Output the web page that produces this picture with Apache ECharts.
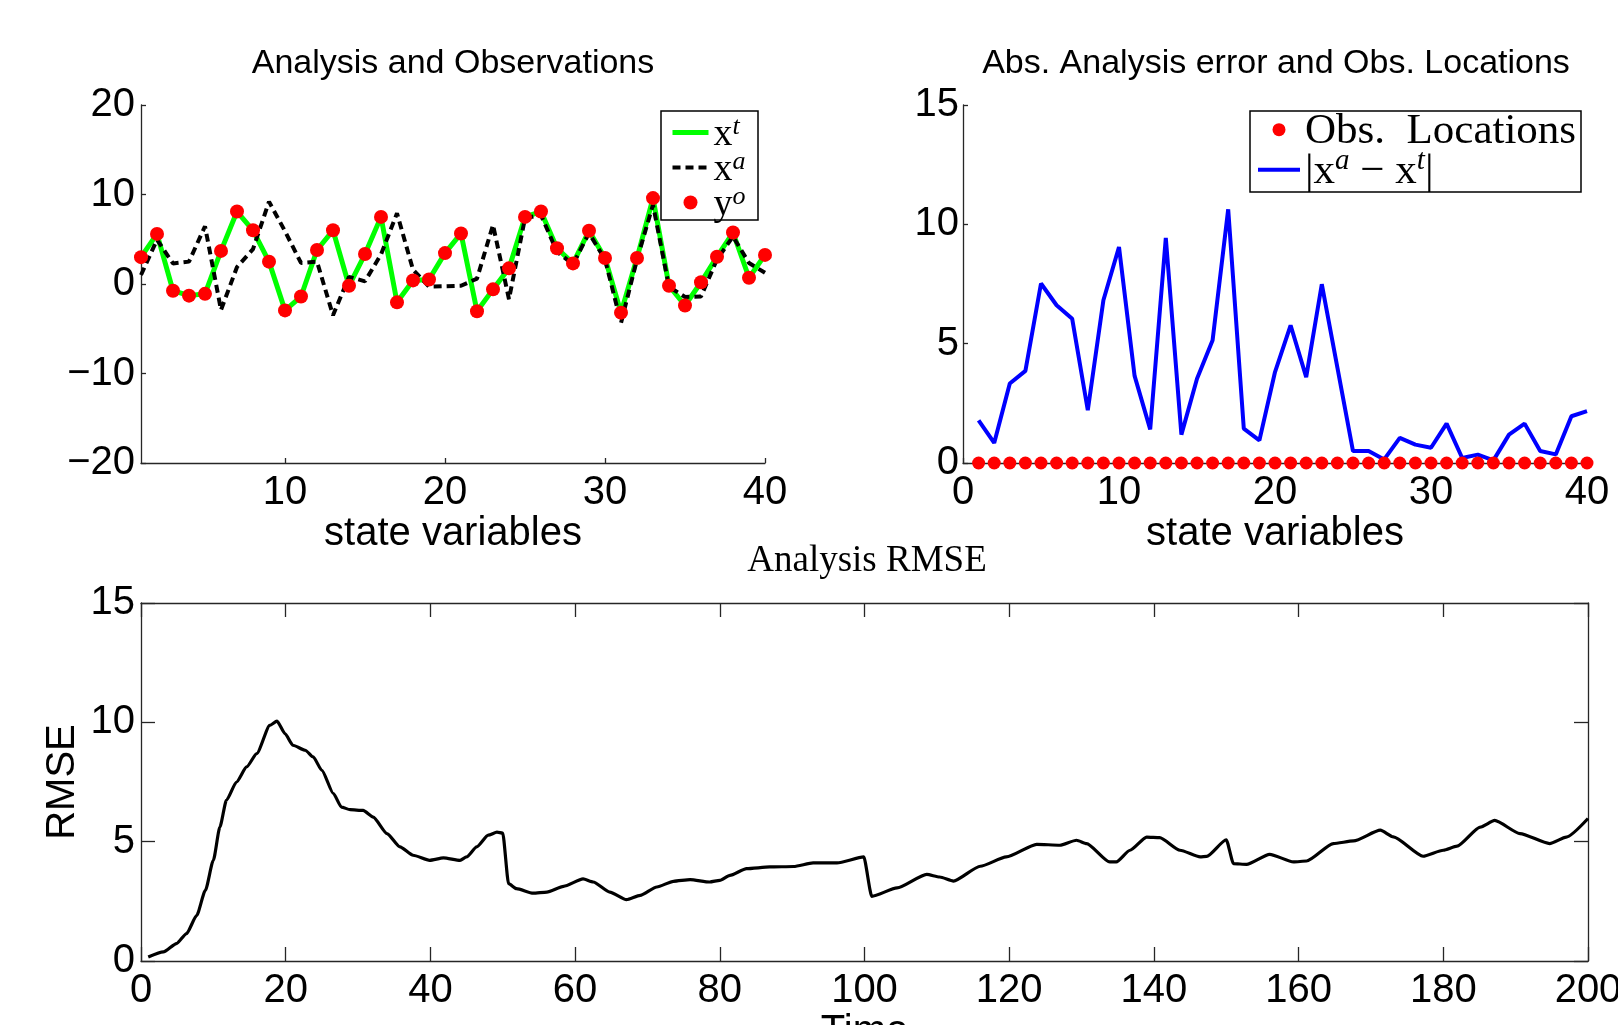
<!DOCTYPE html>
<html>
<head>
<meta charset="utf-8">
<title>Analysis and Observations</title>
<script src="https://cdn.jsdelivr.net/npm/echarts@6/dist/echarts.min.js"></script>
<style>
  html, body { margin: 0; padding: 0; background: #fff; }
  #chart { width: 1618px; height: 1025px; }
</style>
</head>
<body>
<div id="chart"></div>
<script>
// state variables 1..40
var stateIdx = [1, 2, 3, 4, 5, 6, 7, 8, 9, 10, 11, 12, 13, 14, 15, 16, 17, 18, 19, 20,
  21, 22, 23, 24, 25, 26, 27, 28, 29, 30, 31, 32, 33, 34, 35, 36, 37, 38, 39, 40]

// x^t (truth), x^a (analysis), y^o (observations)
var truthVals = [3.0, 5.6, -0.75, -1.3, -1.1, 3.7, 8.1, 6.0, 2.5, -2.95, -1.4, 3.8, 6.0, -0.2, 3.35, 7.5, -2.05, 0.4, 0.5, 3.45,
  5.65, -3.05, -0.6, 1.75, 7.5, 8.1, 4.0, 2.3, 5.95, 2.9, -3.2, 2.9, 9.6, -0.2, -2.4, 0.2, 3.05, 5.75, 0.7, 3.25]
var analysisVals = [1.0, 4.95, 2.3, 2.5, 6.45, -2.9, 1.9, 3.9, 9.2, 5.9, 2.35, 2.5, -3.5, 0.8, 0.3, 3.3, 7.9, 1.6, -0.3, -0.25,
  -0.2, 0.6, 6.6, -1.7, 7.35, 7.7, 3.6, 2.2, 5.7, 2.75, -4.35, 2.75, 8.85, -0.3, -1.45, -1.4, 2.75, 5.3, 2.35, 1.25]
var obsVals = [3.0, 5.6, -0.75, -1.3, -1.1, 3.7, 8.1, 6.0, 2.5, -2.95, -1.4, 3.8, 6.0, -0.2, 3.35, 7.5, -2.05, 0.4, 0.5, 3.45,
  5.65, -3.05, -0.6, 1.75, 7.5, 8.1, 4.0, 2.3, 5.95, 2.9, -3.2, 2.9, 9.6, -0.2, -2.4, 0.2, 3.05, 5.75, 0.7, 3.25]

// |x^a - x^t| and obs locations (all at 0)
var absErrVals = [1.79, 0.84, 3.33, 3.86, 7.52, 6.61, 6.04, 2.21, 6.82, 9.05, 3.65, 1.41, 9.43, 1.19, 3.53, 5.14, 10.63, 1.44, 0.95, 3.81,
  5.77, 3.6, 7.49, 4.0, 0.5, 0.5, 0.15, 1.05, 0.77, 0.64, 1.65, 0.21, 0.35, 0.11, 1.19, 1.65, 0.5, 0.36, 1.96, 2.17]
var obsLocVals = [0, 0, 0, 0, 0, 0, 0, 0, 0, 0, 0, 0, 0, 0, 0, 0, 0, 0, 0, 0,
  0, 0, 0, 0, 0, 0, 0, 0, 0, 0, 0, 0, 0, 0, 0, 0, 0, 0, 0, 0]

// analysis RMSE over time
var rmseTime = [1, 3.1, 4.9, 6.3, 7.7, 8.9, 10.0, 10.9, 11.8, 13.2, 14.6, 16.0, 17.8, 18.8, 19.9, 21.0, 22.7, 23.8, 25.0, 26.6,
  27.7, 28.9, 30.7, 32.1, 34.0, 35.8, 37.6, 39.9, 41.8, 44.1, 45.0, 46.4, 48.0, 49.2, 50.0, 50.8, 51.9, 54.2, 56.1, 58.4,
  61.1, 62.5, 64.8, 67.1, 69.0, 71.3, 73.6, 75.9, 78.6, 80.0, 81.4, 83.7, 86.9, 90.2, 92.9, 96.2, 99.9, 101.0, 104.5, 108.6,
  110.4, 112.3, 116.0, 119.6, 123.8, 127.0, 129.3, 130.7, 133.9, 134.8, 136.7, 139.0, 140.8, 143.6, 146.4, 147.3, 150.0, 151.0, 152.8, 156.0,
  159.3, 161.1, 164.8, 167.6, 171.3, 173.1, 177.2, 180.0, 181.9, 185.1, 187.1, 190.6, 194.7, 197.0, 200.0]
var rmseVals = [0.17, 0.38, 0.73, 1.15, 1.91, 2.96, 4.22, 5.61, 6.73, 7.5, 8.13, 8.69, 9.87, 10.05, 9.53, 9.04, 8.83, 8.55, 7.99, 7.01,
  6.45, 6.34, 6.31, 6.03, 5.34, 4.78, 4.43, 4.22, 4.32, 4.22, 4.36, 4.78, 5.27, 5.4, 5.36, 3.24, 3.03, 2.84, 2.89, 3.13,
  3.44, 3.31, 2.89, 2.57, 2.75, 3.1, 3.34, 3.41, 3.31, 3.38, 3.59, 3.87, 3.94, 3.96, 4.11, 4.11, 4.36, 2.71, 3.06, 3.63,
  3.52, 3.35, 3.97, 4.36, 4.89, 4.85, 5.06, 4.92, 4.15, 4.15, 4.64, 5.19, 5.17, 4.64, 4.36, 4.38, 5.08, 4.08, 4.05, 4.47,
  4.15, 4.19, 4.92, 5.03, 5.48, 5.2, 4.39, 4.64, 4.81, 5.61, 5.89, 5.34, 4.92, 5.19, 5.97]

var stateTicks = [10, 20, 30, 40]

function pairs (xs, ys) {
  return xs.map(function (x, i) { return [x, ys[i]] })
}

var axisColor = '#262626'
var sansFont = 'Liberation Sans'
var serifFont = 'Liberation Serif'

function minusFmt (v) {
  return v < 0 ? '\u2212' + (-v) : String(v)
}

function valueAxis (extra) {
  var base = {
    type: 'value',
    axisLine: { show: true, onZero: false, lineStyle: { color: axisColor, width: 1.3 } },
    axisTick: { show: true, inside: true, length: 5, lineStyle: { color: axisColor, width: 1.3 } },
    axisLabel: { color: '#000', fontSize: 40, fontFamily: sansFont },
    splitLine: { show: false },
    nameTextStyle: { color: '#000', fontSize: 40, fontFamily: sansFont }
  }
  for (var k in extra) {
    if (typeof extra[k] === 'object' && base[k] && !Array.isArray(extra[k])) {
      base[k] = Object.assign({}, base[k], extra[k])
    } else {
      base[k] = extra[k]
    }
  }
  return base
}

var legendNames = {
  xt: '{x|x}{sup|t}',
  xa: '{x|x}{sup|a}',
  yo: '{x|y}{sup|o}',
  obsLoc: '{r|Obs.  Locations}',
  err: '{r||x}{sup2|a}{r| \u2212 x}{sup2|t}{r||}'
}
// line entries in the legend: no marker dot on the line sample
var noDot = { color: 'rgba(0,0,0,0)', borderColor: 'rgba(0,0,0,0)', borderWidth: 0 }

// legend frames (matlab style boxes)
function legendFrame (x, y, w, h) {
  return {
    type: 'rect', z: 3,
    shape: { x: x, y: y, width: w, height: h },
    style: { fill: '#fff', stroke: '#000', lineWidth: 1.5 }
  }
}

var dom = echarts.init(document.getElementById('chart'))
var option = {
  animation: false,
  backgroundColor: '#fff',
  textStyle: { fontFamily: sansFont },
  title: [
    {
      text: 'Analysis and Observations', left: 453, top: 47, textAlign: 'center', padding: 0,
      textStyle: { fontFamily: sansFont, fontSize: 34, fontWeight: 'normal', color: '#000' }
    },
    {
      text: 'Abs. Analysis error and Obs. Locations', left: 1276, top: 47, textAlign: 'center', padding: 0,
      textStyle: { fontFamily: sansFont, fontSize: 34, fontWeight: 'normal', color: '#000' }
    },
    {
      text: 'Analysis RMSE', left: 867, top: 543, textAlign: 'center', padding: 0,
      textStyle: { fontFamily: serifFont, fontSize: 37, fontWeight: 'normal', color: '#000' }
    }
  ],
  graphic: {
    elements: [
      legendFrame(661, 111, 97, 109),
      legendFrame(1250, 111, 331, 81)
    ]
  },
  legend: [
    {
      z: 6,
      data: [
        { name: 'xt', itemStyle: noDot },
        { name: 'xa', itemStyle: noDot },
        'yo'
      ],
      orient: 'vertical',
      left: 670,
      top: 114.5,
      itemWidth: 36,
      itemHeight: 14,
      itemGap: -4.5,
      padding: 0,
      selectedMode: false,
      lineStyle: { width: 'inherit' },
      formatter: function (name) { return legendNames[name] },
      textStyle: {
        color: '#000',
        rich: {
          x: { fontFamily: serifFont, fontSize: 38, padding: [5, 0, 0, 0], color: '#000' },
          sup: { fontFamily: serifFont, fontSize: 26, fontStyle: 'italic', padding: [0, 0, 10, 0], color: '#000' }
        }
      }
    },
    {
      z: 6,
      data: [
        'obsLoc',
        { name: 'err', itemStyle: noDot }
      ],
      orient: 'vertical',
      left: 1256,
      top: 110.7,
      itemWidth: 42,
      itemHeight: 13,
      itemGap: -7,
      padding: 0,
      selectedMode: false,
      lineStyle: { width: 'inherit' },
      formatter: function (name) { return legendNames[name] },
      textStyle: {
        color: '#000',
        rich: {
          r: { fontFamily: serifFont, fontSize: 43, padding: [5, 0, 0, 0], color: '#000' },
          sup2: { fontFamily: serifFont, fontSize: 29, fontStyle: 'italic', padding: [0, 0, 17, 0], color: '#000' }
        }
      }
    }
  ],
  grid: [
    { left: 141, top: 105, width: 624, height: 358, outerBoundsMode: 'none' },
    { left: 963, top: 105, width: 624, height: 358, outerBoundsMode: 'none' },
    { left: 141, top: 603, width: 1447, height: 358, outerBoundsMode: 'none' }
  ],
  xAxis: [
    valueAxis({
      gridIndex: 0, min: 1, max: 40,
      axisTick: { customValues: stateTicks },
      axisLabel: { customValues: stateTicks, margin: 10 },
      name: 'state variables', nameLocation: 'middle', nameGap: 40
    }),
    valueAxis({
      gridIndex: 1, min: 0, max: 40, interval: 10,
      axisLabel: { margin: 10 },
      name: 'state variables', nameLocation: 'middle', nameGap: 40
    }),
    valueAxis({
      gridIndex: 2, min: 0, max: 200, interval: 20,
      axisTick: { length: 14 },
      axisLabel: { margin: 10 },
      name: 'Time', nameLocation: 'middle', nameGap: 44
    }),
    valueAxis({
      gridIndex: 2, min: 0, max: 200, interval: 20, position: 'top',
      axisTick: { length: 14 },
      axisLabel: { show: false }
    })
  ],
  yAxis: [
    valueAxis({
      gridIndex: 0, min: -20, max: 20, interval: 10,
      axisLabel: { margin: 6, formatter: minusFmt }
    }),
    valueAxis({
      gridIndex: 1, min: 0, max: 15, interval: 5,
      axisLabel: { margin: 4 }
    }),
    valueAxis({
      gridIndex: 2, min: 0, max: 15, interval: 5,
      axisTick: { length: 14 },
      axisLabel: { margin: 6 },
      name: 'RMSE', nameLocation: 'middle', nameGap: 58, nameMoveOverlap: false
    }),
    valueAxis({
      gridIndex: 2, min: 0, max: 15, interval: 5, position: 'right',
      axisTick: { length: 14 },
      axisLabel: { show: false }
    })
  ],
  series: [
    {
      name: 'xt', type: 'line', xAxisIndex: 0, yAxisIndex: 0,
      data: pairs(stateIdx, truthVals),
      symbol: 'none', z: 2,
      lineStyle: { color: '#00ff00', width: 5 },
      itemStyle: { color: '#00ff00' }
    },
    {
      name: 'xa', type: 'line', xAxisIndex: 0, yAxisIndex: 0,
      data: pairs(stateIdx, analysisVals),
      symbol: 'none', z: 2,
      lineStyle: { color: '#000', width: 4, type: [8, 5] },
      itemStyle: { color: '#000' }
    },
    {
      name: 'yo', type: 'scatter', xAxisIndex: 0, yAxisIndex: 0,
      data: pairs(stateIdx, obsVals),
      symbol: 'circle', symbolSize: 14, z: 2, clip: false,
      itemStyle: { color: '#ff0000', opacity: 1 }
    },
    {
      name: 'obsLoc', type: 'scatter', xAxisIndex: 1, yAxisIndex: 1,
      data: pairs(stateIdx, obsLocVals),
      symbol: 'circle', symbolSize: 13, z: 2, clip: false,
      itemStyle: { color: '#ff0000', opacity: 1 }
    },
    {
      name: 'err', type: 'line', xAxisIndex: 1, yAxisIndex: 1,
      data: pairs(stateIdx, absErrVals),
      symbol: 'none', z: 2,
      lineStyle: { color: '#0000ff', width: 4 },
      itemStyle: { color: '#0000ff' }
    },
    {
      name: 'rmse', type: 'line', xAxisIndex: 2, yAxisIndex: 2,
      data: pairs(rmseTime, rmseVals),
      symbol: 'none', z: 2,
      smooth: 0.2, smoothMonotone: 'x',
      lineStyle: { color: '#000', width: 3.2 },
      itemStyle: { color: '#000' }
    }
  ]
}
dom.setOption(option)
window.addEventListener('resize', function () { dom.resize() })
</script>
</body>
</html>
